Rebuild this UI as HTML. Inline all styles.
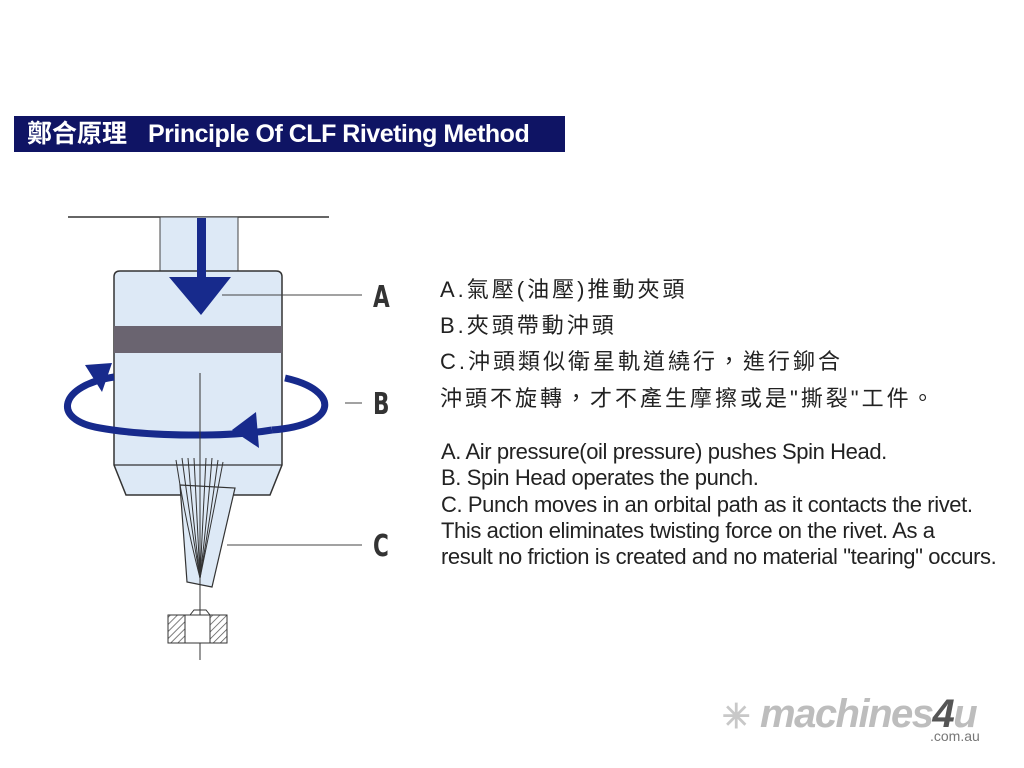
<!DOCTYPE html>
<html><head><meta charset="utf-8"><style>
body{margin:0;width:1024px;height:768px;background:#fff;position:relative;overflow:hidden;font-family:"Liberation Sans","Noto Sans CJK TC",sans-serif}
.t{position:absolute;white-space:nowrap}
#title{position:absolute;left:14px;top:116px;width:551px;height:36px;background:#0f1464;color:#fff;font-weight:bold;font-size:25px;line-height:36px;box-sizing:border-box;white-space:nowrap}
.zh{font-size:22px;color:#222;left:440px;letter-spacing:3px}
.en{font-size:22px;color:#222;left:441px;letter-spacing:-0.4px}
.lbl{font-family:"DejaVu Sans Condensed","Liberation Sans Narrow",sans-serif;font-weight:bold;font-size:30px;color:#333;left:373px;transform:scaleX(0.8);transform-origin:left}
</style></head><body>
<div id="title"><span style="position:absolute;left:13px">鄭合原理</span><span style="position:absolute;left:134px;letter-spacing:-0.5px">Principle Of CLF Riveting Method</span></div>
<svg class="t" style="left:0;top:0" width="1024" height="768">
<defs><pattern id="h" width="5" height="5" patternUnits="userSpaceOnUse" patternTransform="rotate(45)"><line x1="0" y1="0" x2="0" y2="5" stroke="#555" stroke-width="1.5"/></pattern></defs>
<line x1="68" y1="217" x2="329" y2="217" stroke="#333" stroke-width="1.5"/>
<rect x="160" y="217" width="78" height="54" fill="#dde9f6" stroke="#444" stroke-width="1"/>
<path d="M120 271 H276 Q282 271 282 277 V465 L270 495 H126 L114 465 V277 Q114 271 120 271Z" fill="#dde9f6" stroke="#333" stroke-width="1.5"/>
<line x1="114" y1="465" x2="282" y2="465" stroke="#333" stroke-width="1.2"/>
<rect x="114" y="326" width="168" height="27" fill="#6a6470"/>
<path d="M114 377 C60 385 50 420 100 428 C150 437 230 437 272 430" fill="none" stroke="#172a8c" stroke-width="7"/>
<path d="M285 378 C340 390 340 425 272 430" fill="none" stroke="#172a8c" stroke-width="7"/>
<polygon points="85,365 112,363 102,392" fill="#172a8c"/>
<polygon points="232,430 256,412 259,448" fill="#172a8c"/>
<rect x="197" y="218" width="9" height="60" fill="#172a8c"/>
<polygon points="169,277 231,277 201,315" fill="#172a8c"/>
<polygon points="180,485 235,488 212,587 187,582" fill="#dde9f6" stroke="#333" stroke-width="1.2"/>
<g stroke="#333" stroke-width="1" fill="none">
<path d="M176 460 Q185 520 200 578"/><path d="M182 458 Q190 520 200 578"/><path d="M188 458 Q193 520 200 578"/><path d="M212 458 Q207 520 200 578"/><path d="M218 460 Q210 520 200 578"/><path d="M223 462 Q212 520 200 578"/><path d="M194 458 L200 578"/><path d="M206 458 L200 578"/>
</g>
<line x1="200" y1="373" x2="200" y2="660" stroke="#333" stroke-width="1"/>
<rect x="168" y="615" width="59" height="28" fill="url(#h)" stroke="#333"/>
<rect x="185" y="615" width="25" height="28" fill="#fff" stroke="#333"/>
<path d="M190 615 L194 610 H206 L210 615" fill="none" stroke="#333"/>
<g stroke="#444" stroke-width="1"><line x1="222" y1="295" x2="362" y2="295"/><line x1="345" y1="403" x2="362" y2="403"/><line x1="227" y1="545" x2="362" y2="545"/></g>
</svg>
<div class="t lbl" style="top:280px">A</div>
<div class="t lbl" style="top:387px">B</div>
<div class="t lbl" style="top:529px">C</div>
<div class="t zh" style="top:272px">A.氣壓(油壓)推動夾頭</div>
<div class="t zh" style="top:308px">B.夾頭帶動沖頭</div>
<div class="t zh" style="top:344px">C.沖頭類似衛星軌道繞行，進行鉚合</div>
<div class="t zh" style="top:381px">沖頭不旋轉，才不產生摩擦或是"撕裂"工件。</div>
<div class="t en" style="top:439px">A. Air pressure(oil pressure) pushes Spin Head.</div>
<div class="t en" style="top:465px">B. Spin Head operates the punch.</div>
<div class="t en" style="top:492px">C. Punch moves in an orbital path as it contacts the rivet.</div>
<div class="t en" style="top:518px">This action eliminates twisting force on the rivet. As a</div>
<div class="t en" style="top:544px">result no friction is created and no material "tearing" occurs.</div>
<div class="t" style="left:722px;top:697px;font-size:34px;color:#c8c8c8;font-weight:bold">✳</div>
<div class="t" style="left:760px;top:692px;font-size:40px;color:#bdbdbd;font-weight:bold;font-style:italic;letter-spacing:-1.5px">machines<span style="color:#555">4</span>u</div>
<div class="t" style="left:930px;top:728px;font-size:14px;color:#777">.com.au</div>
</body></html>
